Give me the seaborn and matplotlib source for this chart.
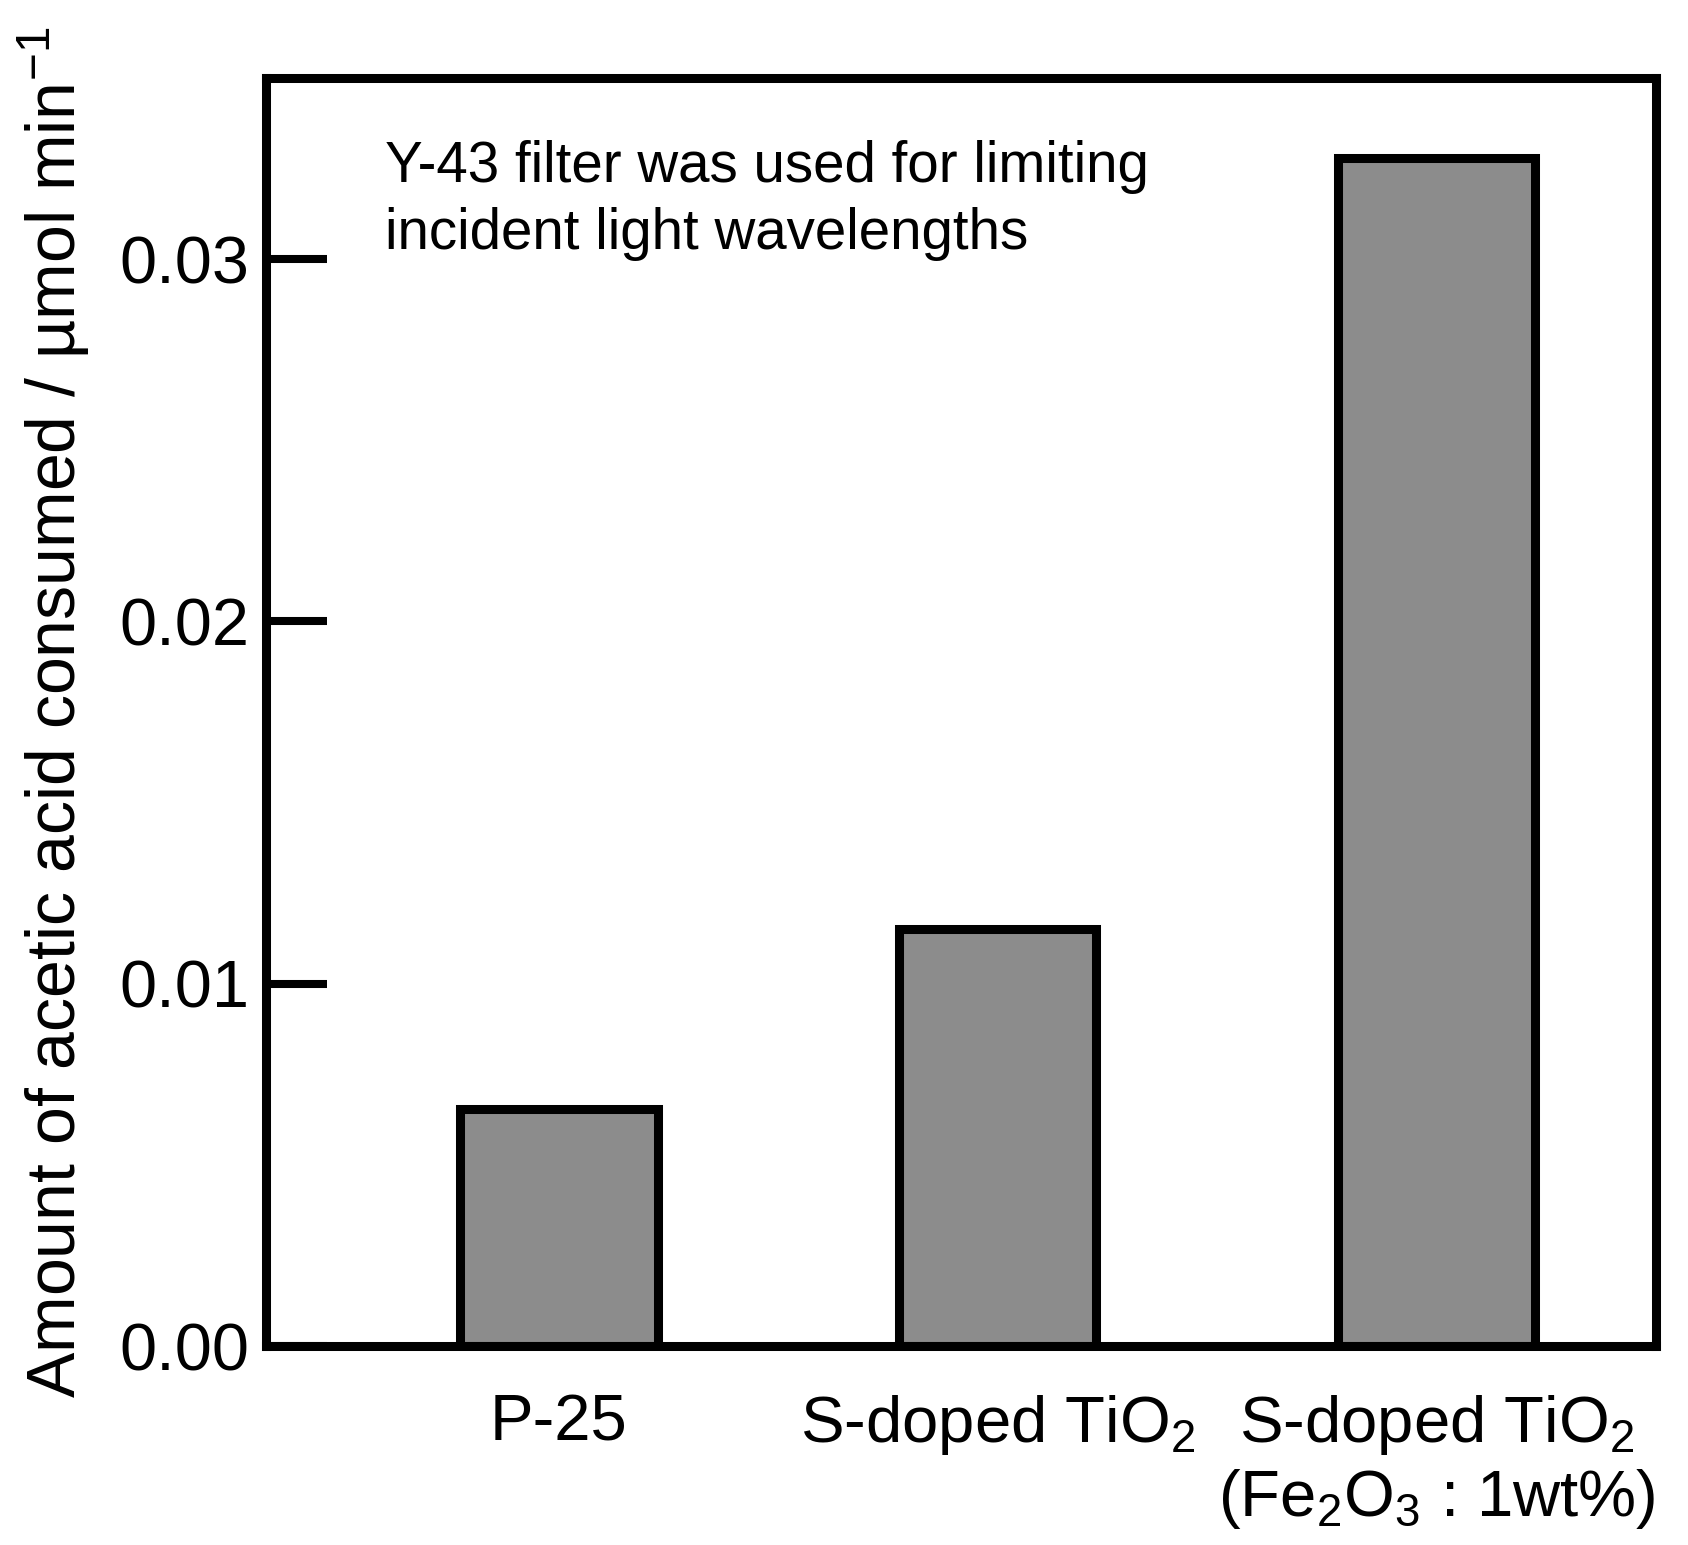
import numpy as np
import matplotlib
matplotlib.use("Agg")
import matplotlib.pyplot as plt
import seaborn as sns
from matplotlib.ticker import FormatStrFormatter

# data
samples = ["P-25", "S-doped TiO$_2$", "S-doped TiO$_2$\n(Fe$_2$O$_3$ : 1wt%)"]
rates = [0.00655, 0.0115, 0.0328]
yticks = [0.0, 0.01, 0.02, 0.03]

sns.set_style("white")
plt.rcParams["font.family"] = ["Liberation Sans", "DejaVu Sans"]
plt.rcParams["mathtext.fontset"] = "custom"
plt.rcParams["mathtext.rm"] = "Liberation Sans"
plt.rcParams["mathtext.it"] = "Liberation Sans:italic"
plt.rcParams["mathtext.bf"] = "Liberation Sans:bold"
plt.rcParams["text.color"] = "black"
plt.rcParams["axes.labelcolor"] = "black"
plt.rcParams["xtick.color"] = "black"
plt.rcParams["ytick.color"] = "black"

fig = plt.figure(figsize=(16.88, 15.45), dpi=100)
ax = fig.add_axes([0.1576, 0.1288, 0.981 - 0.1576, 0.9495 - 0.1288])

sns.barplot(x=samples, y=rates, color="#8c8c8c", edgecolor="black",
            linewidth=6.5, width=0.45, saturation=1, ax=ax)

ax.set_xlim(-0.667, 2.5)
ax.set_ylim(0, 0.035)
ax.set_yticks(yticks)
ax.yaxis.set_major_formatter(FormatStrFormatter("%.2f"))

for s in ax.spines.values():
    s.set_visible(True)
    s.set_linewidth(6.5)
    s.set_color("black")

ax.tick_params(axis="y", direction="in", length=44, width=5.8,
               labelsize=48, pad=12, left=True, colors="black")
ax.tick_params(axis="x", length=0, labelsize=47, pad=34, colors="black")

ax.set_xlabel("")
ax.set_ylabel("Amount of acetic acid consumed / µmol min$^{-1}$",
              fontsize=49, labelpad=20, color="black")

ax.text(0.0856, 0.951, "Y-43 filter was used for limiting\nincident light wavelengths",
        transform=ax.transAxes, fontsize=40.7, va="top", ha="left",
        linespacing=1.3, color="black")

fig.savefig("out.png", dpi=100)
